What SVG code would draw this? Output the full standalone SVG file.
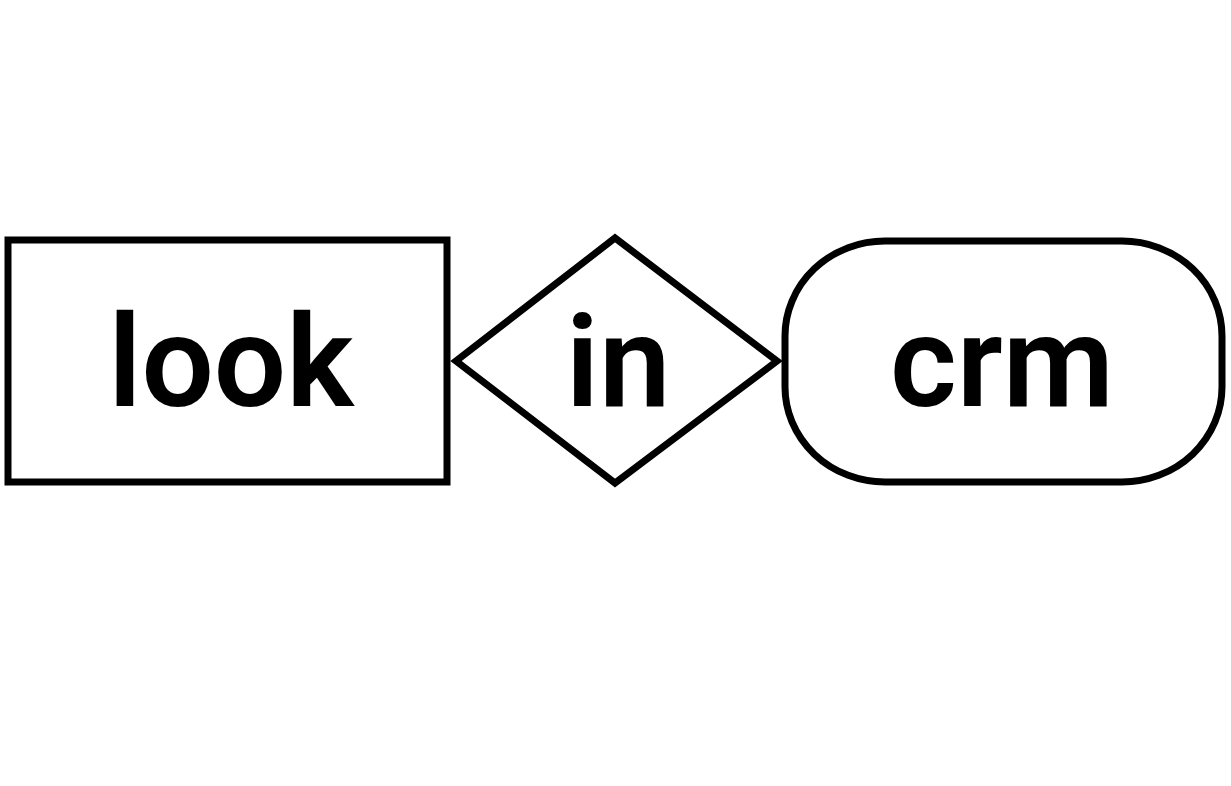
<svg xmlns="http://www.w3.org/2000/svg" width="1231" height="786" viewBox="0 0 1231 786">
<style>
.shape{fill:#fff;stroke:#000;stroke-width:7;}
.lbl{font-family:Roboto,"Liberation Sans",sans-serif;font-weight:600;font-size:128px;fill:#000;text-anchor:middle;}
</style>
<rect width="1231" height="786" fill="#fff"/>
<g id="connectors"></g>
<g id="node-look">
<rect class="shape" x="8" y="240" width="439" height="242"/>
<text class="lbl" x="231" y="406">look</text>
</g>
<g id="node-in">
<polygon class="shape" points="456,361 615,238 777,361 615,483"/>
<text class="lbl" x="618" y="406">in</text>
</g>
<g id="node-crm">
<rect class="shape" x="785" y="241" width="437" height="241" rx="100" ry="95"/>
<text class="lbl" x="1002" y="406">crm</text>
</g>
</svg>
